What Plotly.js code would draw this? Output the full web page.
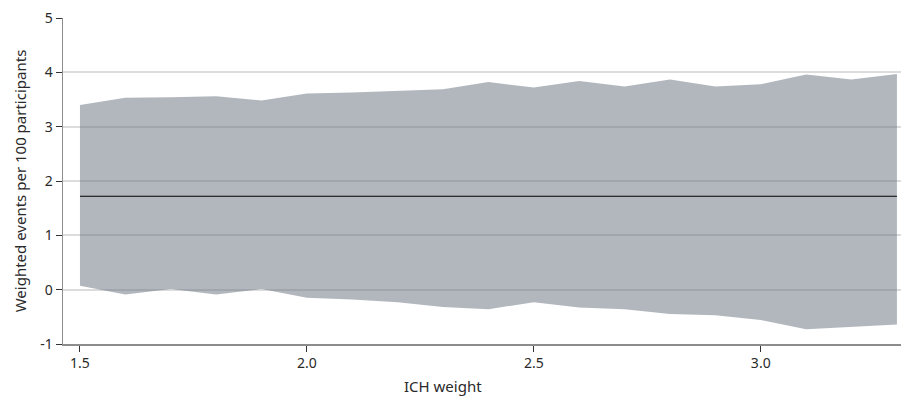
<!DOCTYPE html>
<html>
<head>
<meta charset="utf-8">
<script src="https://cdn.plot.ly/plotly-3.0.1.min.js"></script>
<style>html,body{margin:0;padding:0;background:#fff;}#chart{width:901px;height:396px;}</style>
</head>
<body>
<div id="chart"></div>
<script>
var ichWeight = [1.5,1.6,1.7,1.8,1.9,2.0,2.1,2.2,2.3,2.4,2.5,2.6,2.7,2.8,2.9,3.0,3.1,3.2,3.3];
var upperBound = [3.40,3.53,3.54,3.56,3.48,3.61,3.63,3.66,3.69,3.82,3.72,3.84,3.74,3.87,3.74,3.78,3.96,3.87,3.97];
var lowerBound = [0.07,-0.09,0.01,-0.09,0.01,-0.15,-0.18,-0.23,-0.32,-0.36,-0.23,-0.33,-0.36,-0.45,-0.47,-0.56,-0.73,-0.69,-0.64];
var estimate = 1.72;
var yTickVals = [-1,0,1,2,3,4,5];
var yTickText = ["-1","0","1","2","3","4","5"];
var xTickVals = [1.5,2.0,2.5,3.0];
var xTickText = ["1.5","2.0","2.5","3.0"];

var estLine = ichWeight.map(function(){return estimate;});

var font = "'Noto Sans', 'Open Sans', sans-serif";
var txt = '#2a2a2a';
var traces = [
  {x: ichWeight, y: lowerBound, mode:'lines', line:{width:0, color:'rgba(0,0,0,0)'}, hoverinfo:'skip', showlegend:false},
  {x: ichWeight, y: upperBound, mode:'lines', fill:'tonexty', fillcolor:'rgba(99,111,123,0.5)', line:{width:0, color:'rgba(0,0,0,0)'}, showlegend:false},
  {x: ichWeight, y: estLine, mode:'lines', line:{width:1.1, color:'#000'}, showlegend:false}
];
var layout = {
  width:901, height:396,
  margin:{l:63, r:0, t:18, b:52},
  paper_bgcolor:'#fff', plot_bgcolor:'#fff',
  font:{family:font, size:14, color:txt},
  xaxis:{range:[1.4626,3.309], tickvals:xTickVals, ticktext:xTickText, showgrid:false, zeroline:false,
    showline:true, linecolor:'#8c8c8c', linewidth:1.5, ticks:'outside', ticklen:6, tickcolor:'#333', tickwidth:1,
    tickfont:{family:font, size:14, color:txt}},
  yaxis:{range:[-1,5], tickvals:yTickVals, ticktext:yTickText, showgrid:true, gridcolor:'#dcdcdc', gridwidth:2, zeroline:false,
    showline:true, linecolor:'#8c8c8c', linewidth:1.5, ticks:'outside', ticklen:6, tickcolor:'#333', tickwidth:1,
    tickfont:{family:font, size:14, color:txt},
    title:{text:'Weighted events per 100 participants', font:{family:font, size:15, color:txt}, standoff:10}},
  annotations:[{text:'ICH weight', xref:'paper', yref:'paper', x:0.4535, y:0, yshift:-42, xanchor:'center', yanchor:'middle', showarrow:false,
    font:{family:font, size:15, color:txt}}]
};
Plotly.newPlot('chart', traces, layout, {staticPlot:true, displayModeBar:false});
</script>
</body>
</html>
